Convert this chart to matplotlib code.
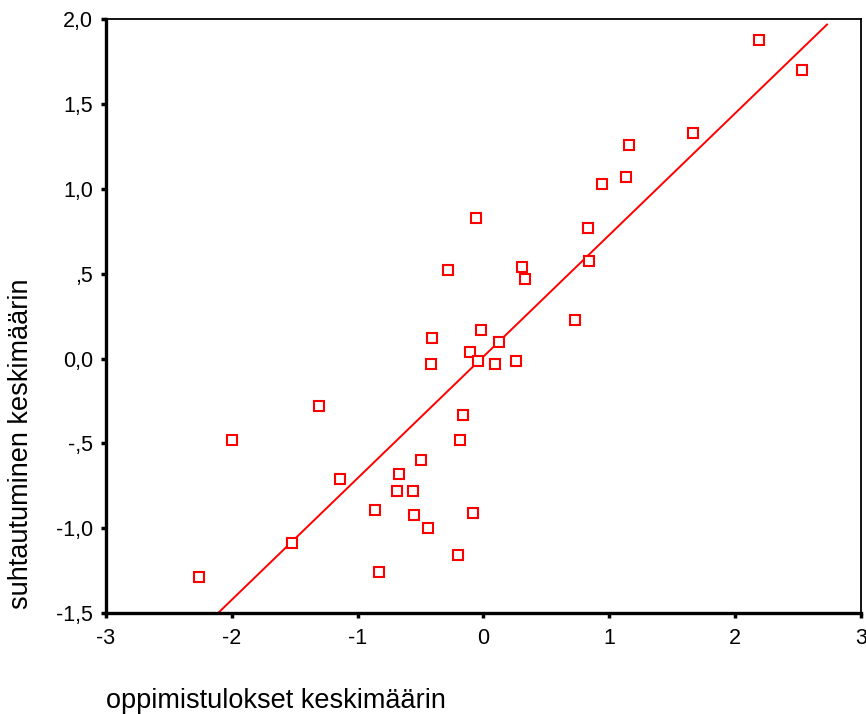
import numpy as np
import matplotlib
matplotlib.use("Agg")
import matplotlib.pyplot as plt
from matplotlib.ticker import FixedLocator, FixedFormatter

# data: oppimistulokset (x) vs suhtautuminen (y)
x_vals = [-2.26, -2.00, -1.52, -1.31, -1.14, -0.86, -0.83, -0.67, -0.69, -0.56,
          -0.55, -0.50, -0.44, -0.41, -0.42, -0.28, -0.20, -0.19, -0.16, -0.11,
          -0.06, -0.045, -0.08, -0.02, 0.095, 0.12, 0.26, 0.31, 0.33, 0.73,
          0.83, 0.84, 0.94, 1.13, 1.157, 1.665, 2.19, 2.53]
y_vals = [-1.29, -0.48, -1.09, -0.28, -0.71, -0.89, -1.26, -0.68, -0.78, -0.78,
          -0.92, -0.595, -1.00, 0.12, -0.03, 0.52, -1.16, -0.48, -0.33, 0.04,
          0.83, -0.016, -0.91, 0.17, -0.03, 0.10, -0.016, 0.54, 0.47, 0.23,
          0.77, 0.575, 1.03, 1.07, 1.26, 1.33, 1.88, 1.70]

x_ticks = [-3, -2, -1, 0, 1, 2, 3]
x_tick_labels = ["-3", "-2", "-1", "0", "1", "2", "3"]
y_ticks = [2.0, 1.5, 1.0, 0.5, 0.0, -0.5, -1.0, -1.5]
y_tick_labels = ["2,0", "1,5", "1,0", ",5", "0,0", "-,5", "-1,0", "-1,5"]

x_label = "oppimistulokset keskimäärin"
y_label = "suhtautuminen keskimäärin"

plt.rcParams['font.family'] = ['Liberation Sans', 'DejaVu Sans']

fig = plt.figure(figsize=(8.66, 7.14), dpi=100)
ax = fig.add_axes([0.1224, 0.1415, 0.8718, 0.8312])

red = "#ff0000"
ax.plot(x_vals, y_vals, linestyle="none", marker="s", markersize=6.8,
        markerfacecolor="white", markeredgecolor=red, markeredgewidth=1.5,
        zorder=3)

# linear fit line
slope, intercept = np.polyfit(x_vals, y_vals, 1)
fit_x = np.array([-2.4, 2.73])
ax.plot(fit_x, slope * fit_x + intercept, color=red, linewidth=1.4, zorder=2)

ax.set_xlim(-3, 3)
ax.set_ylim(-1.5, 2.0)

ax.xaxis.set_major_locator(FixedLocator(x_ticks))
ax.xaxis.set_major_formatter(FixedFormatter(x_tick_labels))
ax.yaxis.set_major_locator(FixedLocator(y_ticks))
ax.yaxis.set_major_formatter(FixedFormatter(y_tick_labels))

ax.tick_params(axis="both", direction="out", length=3.5, width=2.5,
               labelsize=15.5, color="black")
ax.tick_params(axis="x", pad=7)
ax.tick_params(axis="y", pad=6)

for side in ("left", "bottom"):
    ax.spines[side].set_linewidth(2.4)
for side in ("top", "right"):
    ax.spines[side].set_linewidth(1.3)

fig.text(0.024, 0.378, y_label, fontsize=19.5, rotation=90,
         ha="center", va="center")
fig.text(0.1224, 0.0084, x_label, fontsize=19.5, ha="left", va="baseline")

fig.savefig("out.png", dpi=100)
